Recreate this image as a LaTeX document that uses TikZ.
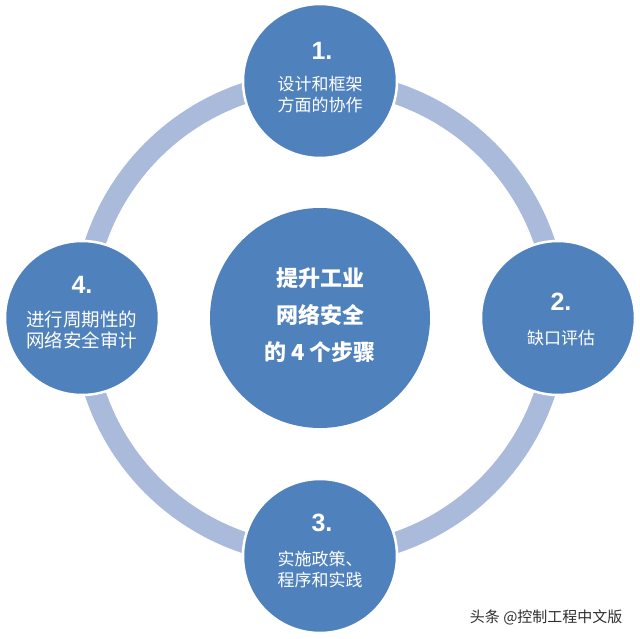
\documentclass[tikz,border=0pt]{standalone}
\usepackage{fontspec}
\newfontfamily\cjk{Noto Sans CJK SC}
\newfontfamily\numfont{Liberation Sans}
\definecolor{stepBlue}{HTML}{4F81BD}
\definecolor{ringBlue}{HTML}{AABADA}
\definecolor{markGray}{HTML}{2E2E2E}
\begin{document}
\begin{tikzpicture}[x=1pt,y=-1pt,
    ringBand/.style={draw=ringBlue,line width=21pt},
    stepDot/.style={circle,fill=stepBlue,draw=white,line width=2.5pt,minimum size=154pt,inner sep=0pt},
    hubDot/.style={circle,fill=stepBlue,minimum size=220pt,inner sep=0pt},
    numTxt/.style={text=white,font=\numfont\bfseries\fontsize{25}{25}\selectfont},
    stepTxt/.style={text=white,align=center,font=\cjk\fontsize{17}{21}\selectfont},
    hubTxt/.style={text=white,align=center,font=\cjk\bfseries\fontsize{22}{37}\selectfont},
]
\useasboundingbox (0,0) rectangle (640,639);
% Hub and ring behind the steps
\node[hubDot] (hub) at (320,318) {};
\draw[ringBand] (hub.center) circle[radius=237pt];
\node[hubTxt] (hubT) at ([yshift=3pt]hub.center) {提升工业\\网络安全\\的 4 个步骤};
% Steps round the ring
\node[stepDot] (S1) at (320,81) {};
\node[stepDot] (S2) at (558,318) {};
\node[stepDot] (S3) at (320,556) {};
\node[stepDot] (S4) at (82,318) {};
\node[numTxt] (N1) at ([xshift=2pt,yshift=30pt]S1.center) {1.};
\node[numTxt] (N2) at ([xshift=3pt,yshift=16pt]S2.center) {2.};
\node[numTxt] (N3) at ([xshift=2pt,yshift=33pt]S3.center) {3.};
\node[numTxt] (N4) at ([yshift=33pt]S4.center) {4.};
\node[stepTxt] (T1) at ([yshift=-14pt]S1.center) {设计和框架\\方面的协作};
\node[stepTxt] (T2) at ([xshift=3pt,yshift=-20pt]S2.center) {缺口评估};
\node[stepTxt] (T3) at ([yshift=-14pt]S3.center) {实施政策、\\程序和实践};
\node[stepTxt,font=\cjk\fontsize{18.5}{21.5}\selectfont] (T4) at ([yshift=-12pt]S4.center) {进行周期性的\\网络安全审计};
% Watermark
\node[anchor=east,text=markGray,font=\cjk\fontsize{15}{15}\selectfont] (mark) at (626,617) {头条 @控制工程中文版};
\end{tikzpicture}
\end{document}
